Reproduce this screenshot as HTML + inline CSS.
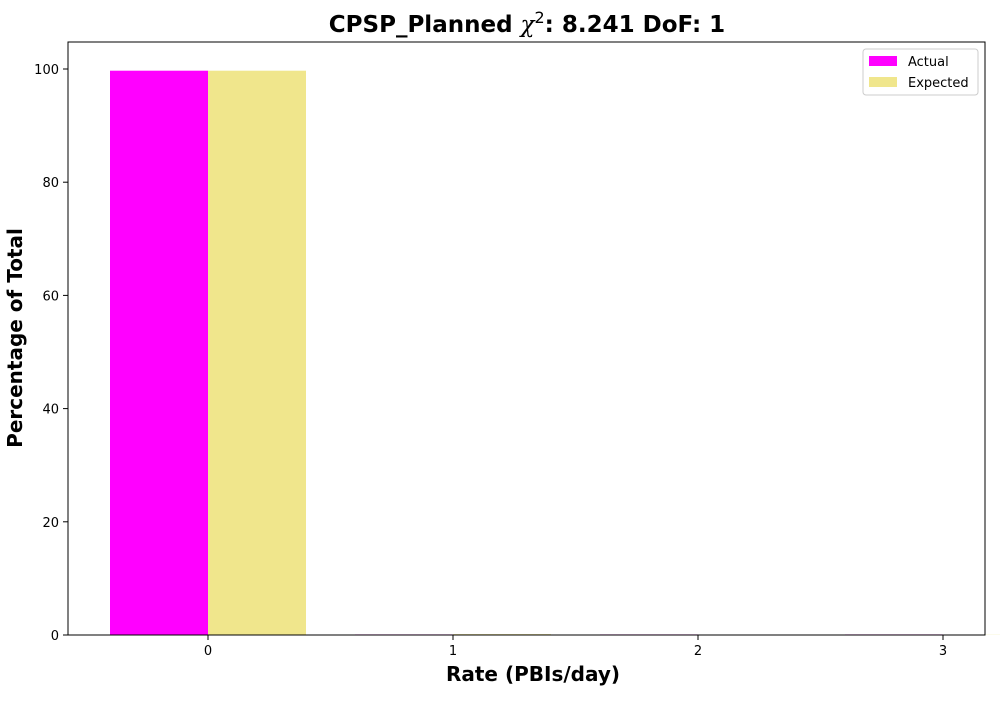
<!DOCTYPE html>
<html><head><meta charset="utf-8"><style>
body{margin:0;background:#fff;width:1000px;height:700px;overflow:hidden}
svg text{font-family:"DejaVu Sans","Liberation Sans",sans-serif}
</style></head><body>
<svg id="c" width="1000" height="700" xmlns="http://www.w3.org/2000/svg">
<text x="527" y="32" text-anchor="middle" font-size="23" font-weight="bold">CPSP_Planned <tspan font-style="italic" font-weight="normal" font-family="DejaVu Serif,serif">χ</tspan><tspan dy="-9" font-size="16" font-weight="normal">2</tspan><tspan dy="9">: 8.241 DoF: 1</tspan></text>
<g id="bars"></g>
<rect x="68" y="42" width="917" height="593" fill="none" stroke="#000" stroke-width="1"/>
<g id="ticks"></g>
<text x="533" y="681" text-anchor="middle" font-size="20" font-weight="bold">Rate (PBIs/day)</text>
<text transform="translate(22,338) rotate(-90)" text-anchor="middle" font-size="20" font-weight="bold">Percentage of Total</text>
<g>
<rect x="863" y="49" width="115" height="46" fill="#fff" stroke="#ccc" rx="3"/>
<rect x="869" y="56" width="28" height="10" fill="#ff00ff"/>
<text x="908" y="66" font-size="13">Actual</text>
<rect x="869" y="77" width="28" height="10" fill="#f0e68c"/>
<text x="908" y="87" font-size="13">Expected</text>
</g>
</svg>
<script>
const categories=[0,1,2,3];
const actualValues=[99.7,0.1,0.1,0.1];
const expectedValues=[99.7,0.15,0.05,0.03];
const yTicks=[0,20,40,60,80,100];
const NS="http://www.w3.org/2000/svg";
function xs(v){return 208+v*245;}
function ys(v){return 635-v*5.66;}
const bars=document.getElementById('bars'),ticks=document.getElementById('ticks');
function mk(tag,attrs,parent){const e=document.createElementNS(NS,tag);for(const k in attrs)e.setAttribute(k,attrs[k]);parent.appendChild(e);return e;}
categories.forEach((c,i)=>{
  const w=0.4*245;
  const a=mk('rect',{x:xs(c)-w,y:ys(actualValues[i]),width:w,height:635-ys(actualValues[i]),fill:'#ff00ff'},bars);
  
  
  const e=mk('rect',{x:xs(c),y:ys(expectedValues[i]),width:w,height:635-ys(expectedValues[i]),fill:'#f0e68c'},bars);
  
  
  mk('line',{x1:xs(c),x2:xs(c),y1:635,y2:640,stroke:'#000'},ticks);
  const t=mk('text',{x:xs(c),y:655,'text-anchor':'middle','font-size':'13'},ticks);
  t.textContent=c;
  
  
});
yTicks.forEach(v=>{
  mk('line',{x1:63,x2:68,y1:ys(v),y2:ys(v),stroke:'#000'},ticks);
  const t=mk('text',{x:59,y:ys(v)+5,'text-anchor':'end','font-size':'13'},ticks);
  t.textContent=v;
  
  
});
</script>
</body></html>
